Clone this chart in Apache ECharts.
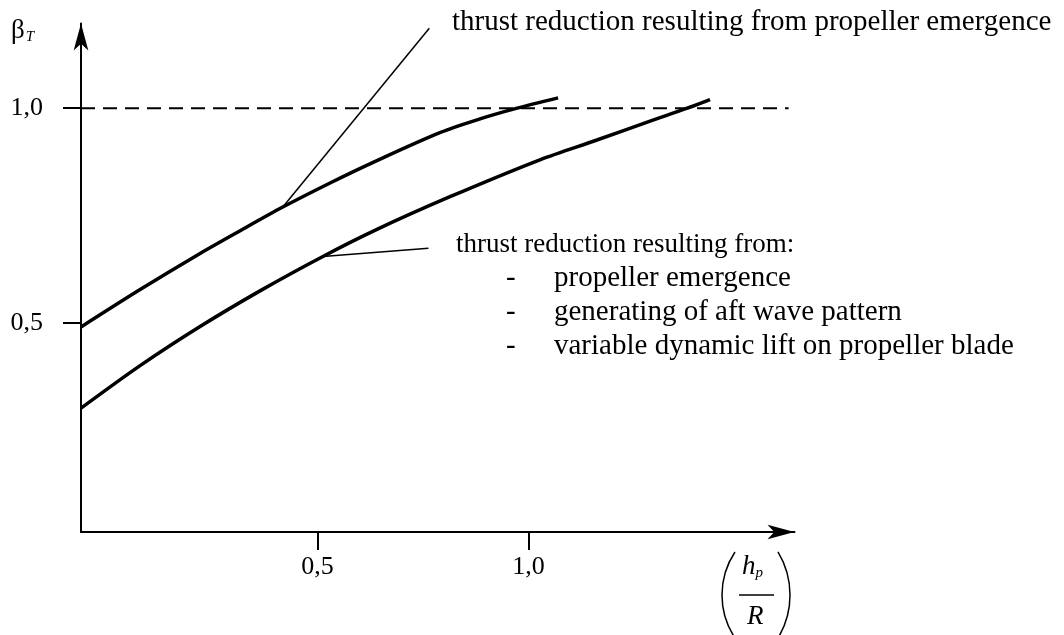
<!DOCTYPE html>
<html>
<head>
<meta charset="utf-8">
<script src="https://cdn.jsdelivr.net/npm/echarts@6/dist/echarts.min.js"></script>
<style>
  html, body { margin: 0; padding: 0; background: #fff; }
  #chart { width: 1064px; height: 635px; }
</style>
</head>
<body>
<div id="chart"></div>
<script>
// curve: thrust reduction from propeller emergence only
const upperX = [-0.06, 0.080, 0.222, 0.317, 0.418, 0.530, 0.632, 0.790, 0.885, 0.973, 1.070]
const upperY = [0.491, 0.578, 0.662, 0.715, 0.770, 0.826, 0.874, 0.943, 0.975, 1.0, 1.024]
// curve: emergence + aft wave pattern + variable dynamic lift
const lowerX = [-0.06, 0.080, 0.222, 0.364, 0.513, 0.641, 0.814, 1.027, 1.162, 1.288, 1.376, 1.430]
const lowerY = [0.302, 0.401, 0.492, 0.575, 0.655, 0.718, 0.794, 0.880, 0.926, 0.970, 1.0, 1.020]
// dashed beta_T = 1,0 level
const refX = [-0.06, 1.616]
const refY = 1.0
// leader lines from the notes to the curves
const upperLeaderX = [0.418, 0.765]
const upperLeaderY = [0.770, 1.186]
const lowerLeaderX = [0.513, 0.763]
const lowerLeaderY = [0.655, 0.674]
// tick labels
const xTicks = [0.5, 1.0]
const yTicks = [0.5, 1.0]

const noteTop = 'thrust reduction resulting from propeller emergence'
const noteHead = 'thrust reduction resulting from:'
const noteItems = ['propeller emergence', 'generating of aft wave pattern', 'variable dynamic lift on propeller blade']

const FONT = '"Liberation Serif", "Times New Roman", serif'
const NOTE = '29px ' + FONT
const fmt = v => v.toFixed(1).replace('.', ',')
const zip = (xs, ys) => xs.map((x, i) => [x, ys[i]])

const chart = echarts.init(document.getElementById('chart'))

const axisCommon = {
  type: 'value',
  splitLine: { show: false },
  axisLine: {
    show: true,
    onZero: false,
    symbol: ['none', 'arrow'],
    symbolSize: [11, 27],
    lineStyle: { color: '#000', width: 2 }
  },
  axisTick: { show: true, inside: false, length: 18, lineStyle: { color: '#000', width: 2 } },
  axisLabel: { color: '#000', fontFamily: FONT, fontSize: 26, formatter: fmt }
}

const graphics = []
graphics.push({
  type: 'text', left: 452, top: 8,
  style: { text: noteTop, font: NOTE, fill: '#000' }
})
graphics.push({
  type: 'text', left: 456, top: 231,
  style: { text: noteHead, font: '27px ' + FONT, fill: '#000' }
})
noteItems.forEach((t, i) => {
  graphics.push({
    type: 'text', left: 506, top: 264 + i * 34,
    style: { text: '-', font: NOTE, fill: '#000' }
  })
  graphics.push({
    type: 'text', left: 554, top: 264 + i * 34,
    style: { text: t, font: NOTE, fill: '#000' }
  })
})
// y axis name beta_T
graphics.push({
  type: 'text', left: 11, top: 17,
  style: {
    text: '{b|β}{s|T}',
    rich: {
      b: { font: '27px ' + FONT, fill: '#000' },
      s: { font: 'italic 15px ' + FONT, fill: '#000', padding: [14, 0, 0, 1] }
    }
  }
})
// x axis name (h_p / R)
graphics.push({
  type: 'text', left: 742, top: 553,
  style: {
    text: '{h|h}{p|p}',
    rich: {
      h: { font: 'italic 27px ' + FONT, fill: '#000' },
      p: { font: 'italic 15px ' + FONT, fill: '#000', padding: [14, 0, 0, 0] }
    }
  }
})
graphics.push({
  type: 'line', shape: { x1: 739, y1: 595, x2: 774, y2: 595 },
  style: { stroke: '#000', lineWidth: 1.5 }
})
graphics.push({
  type: 'text', left: 747, top: 603,
  style: { text: 'R', font: 'italic 27px ' + FONT, fill: '#000' }
})
graphics.push({
  type: 'arc', shape: { cx: 799.6, cy: 595, r: 77.6, startAngle: Math.PI - 0.587, endAngle: Math.PI + 0.587, clockwise: true },
  style: { stroke: '#000', lineWidth: 1.5, fill: null }
})
graphics.push({
  type: 'arc', shape: { cx: 707, cy: 595, r: 83, startAngle: -0.545, endAngle: 0.545, clockwise: true },
  style: { stroke: '#000', lineWidth: 1.5, fill: null }
})

const option = {
  backgroundColor: '#fff',
  animation: false,
  grid: { left: 81, right: 269.5, top: 23.5, bottom: 103, containLabel: false },
  xAxis: Object.assign({}, axisCommon, {
    min: -0.06,
    max: 1.63,
    axisTick: Object.assign({}, axisCommon.axisTick, { customValues: xTicks }),
    axisLabel: Object.assign({}, axisCommon.axisLabel, { customValues: xTicks, margin: 22 })
  }),
  yAxis: Object.assign({}, axisCommon, {
    min: 0.014,
    max: 1.197,
    axisTick: Object.assign({}, axisCommon.axisTick, { customValues: yTicks }),
    axisLabel: Object.assign({}, axisCommon.axisLabel, { customValues: yTicks, margin: 38 })
  }),
  series: [
    {
      type: 'line', data: zip(refX, [refY, refY]), symbol: 'none',
      lineStyle: { color: '#000', width: 2, type: [14, 8] }
    },
    {
      type: 'line', data: zip(upperX, upperY), symbol: 'none', smooth: 0.3,
      lineStyle: { color: '#000', width: 3.5 }
    },
    {
      type: 'line', data: zip(lowerX, lowerY), symbol: 'none', smooth: 0.3,
      lineStyle: { color: '#000', width: 3.5 }
    },
    {
      type: 'line', data: zip(upperLeaderX, upperLeaderY), symbol: 'none',
      lineStyle: { color: '#000', width: 1.5 }
    },
    {
      type: 'line', data: zip(lowerLeaderX, lowerLeaderY), symbol: 'none',
      lineStyle: { color: '#000', width: 1.5 }
    }
  ],
  graphic: graphics
}

chart.setOption(option)
</script>
</body>
</html>
